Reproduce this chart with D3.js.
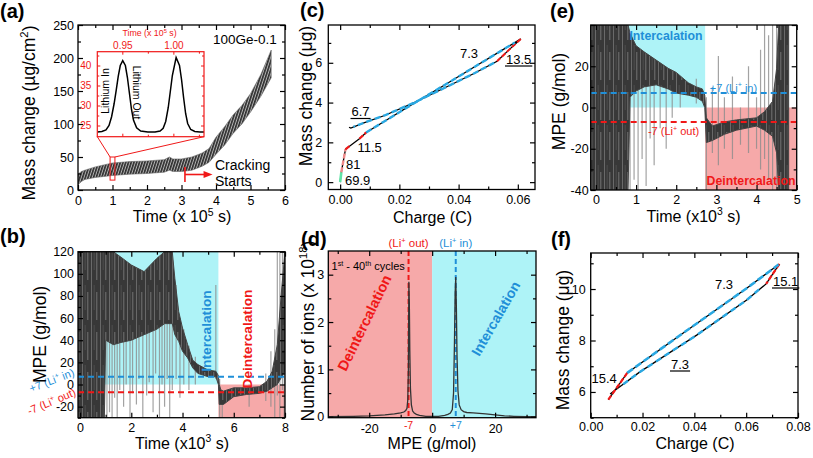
<!DOCTYPE html>
<html><head><meta charset="utf-8">
<script src="https://cdn.jsdelivr.net/npm/d3@7/dist/d3.min.js"></script>
<style>body{margin:0;background:#fff}svg{display:block}</style>
</head><body>
<script>
// ---------------- DATA ----------------
// (a) mass change band envelope (x 1e5 s, ug/cm2)
const aTime = [0, 0.1, 0.2, 0.5, 1, 1.5, 2, 2.5, 2.65, 2.75, 3, 3.3, 3.6, 3.8, 4, 4.25, 4.5, 4.75, 5, 5.3, 5.6];
const aLow  = [8, 13, 16, 19, 22, 24, 25, 27, 30, 28, 28, 30, 36, 42, 54, 68, 86, 100, 118, 142, 170];
const aHigh = [24, 28, 30, 35, 41, 43, 44, 46, 50, 47, 47, 50, 56, 63, 80, 96, 114, 128, 146, 175, 212];
const aXTicks = [0, 1, 2, 3, 4, 5, 6];
const aYTicks = [0, 50, 100, 150, 200, 250];
const crackStart = 3.1, crackArrowEnd = 3.9;
// inset
const inTime = [0.9255, 0.930, 0.934, 0.937, 0.9395, 0.942, 0.944, 0.946, 0.948, 0.9504, 0.953, 0.955, 0.957, 0.959, 0.961, 0.964, 0.968, 0.975, 0.982, 0.987, 0.990, 0.9925, 0.995, 0.997, 0.999, 1.0027, 1.006, 1.008, 1.010, 1.012, 1.014, 1.017, 1.021, 1.026, 1.030];
const inMass = [23.4, 23.5, 23.9, 25.0, 27.2, 30.5, 33.8, 37.3, 40.0, 41.2, 40.0, 37.0, 33.0, 29.0, 26.3, 24.4, 23.6, 23.4, 23.4, 23.6, 24.3, 26.0, 29.5, 33.5, 37.5, 42.0, 40.0, 36.5, 32.0, 28.0, 25.5, 24.0, 23.5, 23.4, 23.4];
const inXTicks = [0.95, 1.00];
const inYTicks = [25, 30, 35, 40];
const zoomBox = [0.93, 1.07, 15, 50];

// (b) MPE vs time, dense core band + spikes
const bTime = [-0.08, 0.95, 1.0, 1.3, 1.6, 2.0, 2.5, 3.0, 3.3, 3.6, 3.7, 3.85, 4.0, 4.2, 4.4, 4.6, 5.0, 5.3, 5.4, 5.43, 5.5, 5.6, 6.0, 6.5, 7.0, 7.3, 7.5, 7.7, 7.85, 8.0];
const bLow  = [-30, -30, 40, 36, 38, 40, 45, 50, 55, 55, 45, 39, 30, 24, 15, 10, 7, 7, 0, -18, -18, -18, -11, -9, -8, -6, -3, 0, 6, 12];
const bHigh = [120, 120, 120, 120, 115, 108, 102, 114, 120, 120, 96, 66, 51, 36, 22, 18, 13, 12, 8, 0, -5, -6, -3, -3, -2, 3, 12, 36, 81, 120];
const bSpikeT  = [1.05, 1.15, 1.25, 1.35, 1.45, 1.55, 1.7, 1.8, 1.95, 2.05, 2.2, 2.3, 2.45, 2.6, 2.7, 2.85, 2.95, 3.1, 3.2, 3.3, 3.4, 3.5, 3.6, 3.75, 3.9, 4.05, 4.25, 4.5, 5.3, 5.45, 5.55, 6.6, 7.25, 7.45, 7.6, 7.7, 7.8, 7.9, 7.97];
const bSpikeLo = [-30, -25, -30, -12, -30, -5, -20, 0, -30, -8, -18, 5, -30, -10, 2, -25, 10, -30, 0, -20, 5, -30, -5, 5, -12, 0, -5, 0, 5, -30, -30, -20, -15, -20, -30, -10, -30, -5, -30];
const bSpikeHi = [60, 70, 55, 60, 70, 50, 55, 60, 45, 55, 60, 50, 60, 50, 55, 60, 60, 70, 65, 70, 75, 80, 85, 90, 60, 50, 35, 25, 90, 5, -5, 0, 10, 30, 50, 120, 120, 120, 120];
const bXTicks = [0, 2, 4, 6, 8];
const bYTicks = [-20, 0, 20, 40, 60, 80, 100, 120];
const bSplit = 5.4;

// (c) mass vs charge, first cycle
const cCharge = [0, 0.0004, 0.0018, 0.0036, 0.0065, 0.0088, 0.015, 0.025, 0.035, 0.045, 0.055, 0.061, 0.057, 0.053, 0.045, 0.035, 0.025, 0.015, 0.008, 0.0036, 0.0030];
const cMass   = [0, 0.5, 1.65, 1.86, 2.18, 2.5, 3.06, 3.97, 4.86, 5.76, 6.66, 7.2, 6.65, 6.08, 5.45, 4.72, 4.0, 3.35, 2.98, 2.72, 2.76];
const cGreenQ = [0, 0.0004], cGreenM = [0, 0.5];
const cPinkQ = [0.0004, 0.0018], cPinkM = [0.5, 1.65];
const cRedQ1 = [0.0018, 0.0036], cRedM1 = [1.65, 1.86];
const cRedQ2 = [0.0065, 0.0088], cRedM2 = [2.18, 2.5];
const cRedQ3 = [0.061, 0.057, 0.053], cRedM3 = [7.2, 6.65, 6.08];
const cCyanUpQ = [0.0088, 0.015, 0.025, 0.035, 0.045, 0.055, 0.059], cCyanUpM = [2.5, 3.06, 3.97, 4.86, 5.76, 6.66, 7.02];
const cCyanDnQ = [0.052, 0.045, 0.035, 0.025, 0.015, 0.008, 0.0045], cCyanDnM = [6.0, 5.45, 4.72, 4.0, 3.35, 2.98, 2.78];
const cXTicks = [0, 0.02, 0.04, 0.06];
const cYTicks = [0, 2, 4, 6];

// (d) histogram of MPE, cycles 1-40
const dMPE  = [-33, -25, -20, -15, -12, -10, -9, -8.4, -8.0, -7.75, -7.55, -7.4, -7.25, -7.1, -6.9, -6.6, -6.2, -5.7, -5, -4, -3, -2, -1, 0, 1, 2, 3, 4, 5, 5.8, 6.4, 6.8, 7.1, 7.3, 7.5, 7.7, 7.9, 8.2, 8.6, 9.2, 10, 11, 13, 15, 17, 20, 23, 26, 30, 33];
const dIons = [0, 0.01, 0.02, 0.04, 0.06, 0.08, 0.1, 0.13, 0.18, 0.35, 1.0, 2.85, 2.4, 1.4, 0.6, 0.25, 0.12, 0.08, 0.05, 0.03, 0.02, 0.01, 0.01, 0.01, 0.01, 0.01, 0.02, 0.03, 0.05, 0.08, 0.15, 0.5, 1.6, 2.6, 2.95, 2.3, 1.3, 0.55, 0.25, 0.15, 0.11, 0.09, 0.08, 0.07, 0.06, 0.04, 0.02, 0.01, 0, 0];
const dRefOut = -7.5, dRefIn = 7.5;
const dXTicks = [-20, 0, 20];
const dYTicks = [0, 1, 2, 3];

// (e) MPE vs time, 40th cycle
const eTime = [-0.13, 0.8, 0.85, 1.0, 1.2, 1.5, 1.8, 2.0, 2.3, 2.5, 2.65, 2.71, 2.75, 2.9, 3.2, 3.5, 4.0, 4.2, 4.4, 4.5, 4.55, 4.8];
const eLow  = [-40, -40, 5, 8, 10, 11, 9, 7, 6, 5, 3, 0, -17, -16, -13, -11, -9, -11, -14, -22, -40, -40];
const eHigh = [40, 40, 36, 30, 27, 23, 19, 17, 12, 10, 9, 6, -5, -9, -7, -6, -5, -2, 3, 19, 40, 40];
const eSpikeT  = [0.85, 0.95, 1.05, 1.15, 1.25, 1.35, 1.45, 1.6, 1.75, 1.9, 2.1, 2.5, 2.75, 2.9, 3.05, 3.2, 3.4, 3.6, 3.8, 4.0, 4.1, 4.2, 4.3, 4.4, 4.5];
const eSpikeLo = [-40, -35, -40, -25, -38, -15, -28, -10, -20, -5, 0, 2, -40, -22, -28, -20, -25, -18, -22, -20, -30, -25, -35, -40, -40];
const eSpikeHi = [20, 25, 15, 20, 22, 18, 20, 18, 16, 14, 14, 14, 5, 10, 25, 5, 15, 0, 20, 5, 28, 40, 35, 40, 40];
const eXTicks = [0, 1, 2, 3, 4, 5];
const eYTicks = [-40, -20, 0, 20, 40];
const eSplit = 2.72;

// (f) mass vs charge, 40th cycle
const fCharge = [0.0068, 0.0141, 0.0319, 0.0602, 0.0728, 0.0677, 0.0602, 0.0409, 0.019, 0.009, 0.0075];
const fMass   = [5.70, 6.74, 8.02, 10.03, 10.97, 10.20, 9.57, 8.21, 6.78, 6.04, 5.92];
const fRedQ1 = [0.0068, 0.0141], fRedM1 = [5.70, 6.74];
const fRedQ2 = [0.0728, 0.0677], fRedM2 = [10.97, 10.20];
const fCyanUpQ = [0.0141, 0.0319, 0.0602, 0.0725], fCyanUpM = [6.74, 8.02, 10.03, 10.95];
const fCyanDnQ = [0.065, 0.0602, 0.0409, 0.019, 0.012], fCyanDnM = [9.99, 9.57, 8.21, 6.78, 6.26];
const fXTicks = [0, 0.02, 0.04, 0.06, 0.08];
const fYTicks = [6, 8, 10];

// ---------------- DRAWING ----------------
const FONT = "'Liberation Sans', Arial, Helvetica, sans-serif";
const BLUE = "#1f8fd8", RED = "#f01818", CYANBG = "#aef3f7", PINKBG = "#f6a9a9", LINEBLUE = "#2aa8e2";
const W = 813, H = 458;
const svg = d3.select("body").append("svg").attr("width", W).attr("height", H)
  .attr("font-family", FONT);
svg.append("rect").attr("width", W).attr("height", H).attr("fill", "#fff");
const defs = svg.append("defs");

// hatch for the oscillating mass trace in (a)
const hatch = defs.append("pattern").attr("id", "hatch").attr("patternUnits", "userSpaceOnUse")
  .attr("width", 2.6).attr("height", 10).attr("patternTransform", "rotate(18)");
hatch.append("rect").attr("width", 2.6).attr("height", 10).attr("fill", "#b4b4b4");
hatch.append("line").attr("x1", 0.8).attr("x2", 0.8).attr("y1", 0).attr("y2", 10)
  .attr("stroke", "#2e2e2e").attr("stroke-width", 1.6);
// streak texture for noisy MPE traces
const streak = defs.append("pattern").attr("id", "streak").attr("patternUnits", "userSpaceOnUse")
  .attr("width", 9, ).attr("height", 40);
streak.append("rect").attr("width", 9).attr("height", 40).attr("fill", "#383838");
[[1.5, "#6e6e6e", 0.9, 0, 40], [4.2, "#555", 0.7, 5, 30], [6.8, "#8a8a8a", 0.7, 12, 40]].forEach(([x, c, w, y1, y2]) =>
  streak.append("line").attr("x1", x).attr("x2", x).attr("y1", y1).attr("y2", y2).attr("stroke", c).attr("stroke-width", w));

function rich(sel, parts, fs) {
  const sh = fs * 0.38;
  let prev = false;
  parts.forEach(([t, s]) => {
    const ts = sel.append("tspan").text(t);
    if (s) { ts.attr("font-size", fs * 0.65).attr("dy", -sh); }
    else if (prev) { ts.attr("dy", sh); }
    prev = s;
  });
  return sel;
}
function text(x, y, parts, o = {}) {
  const fs = o.fs || 13;
  const t = svg.append("text").attr("x", x).attr("y", y).attr("font-size", fs)
    .attr("fill", o.fill || "#000").attr("text-anchor", o.anchor || "start")
    .attr("font-weight", o.bold ? "bold" : "normal");
  if (o.rot !== undefined) t.attr("transform", `rotate(${o.rot},${x},${y})`);
  if (typeof parts === "string") t.text(parts); else rich(t, parts, fs);
  return t;
}

function panel(p) {
  const x = d3.scaleLinear().domain(p.xd).range([p.l, p.r]);
  const y = d3.scaleLinear().domain(p.yd).range([p.b, p.t]);
  const id = "clip_" + p.name;
  defs.append("clipPath").attr("id", id).append("rect")
    .attr("x", p.l).attr("y", p.t).attr("width", p.r - p.l).attr("height", p.b - p.t);
  const g = svg.append("g").attr("clip-path", `url(#${id})`);
  return { x, y, g, p };
}
const fmtPlain = d => String(d);
function axes(P, o) {
  const { x, y, p } = P;
  const col = o.color || "#000";
  const fs = o.fs || 12.5;
  const tl = o.tl || 5, tm = o.tm || 3;
  const style = (g, lab) => {
    g.attr("font-family", FONT).attr("font-size", fs).attr("color", col);
    g.select(".domain").remove();
    g.selectAll("line").attr("stroke-width", o.sw || 1.2);
    if (!lab) g.selectAll("text").remove();
  };
  const add = (axisFn, scale, vals, size, tr, lab, fmt, pad) => {
    const a = axisFn(scale).tickValues(vals).tickSize(-size).tickSizeOuter(0).tickPadding(pad)
      .tickFormat(lab ? fmt : () => "");
    svg.append("g").attr("transform", tr).call(a).call(g => style(g, lab));
  };
  const xf = o.xFmt || fmtPlain, yf = o.yFmt || fmtPlain;
  add(d3.axisBottom, x, o.xMaj, tl, `translate(0,${p.b})`, !o.xTop, xf, o.xPad ?? 5);
  add(d3.axisTop, x, o.xMaj, tl, `translate(0,${p.t})`, !!o.xTop, xf, o.xPad ?? 5);
  add(d3.axisLeft, y, o.yMajLab || o.yMaj, tl, `translate(${p.l},0)`, true, yf, o.yPad ?? 4);
  if (o.yMajLab) add(d3.axisLeft, y, o.yMaj.filter(v => !o.yMajLab.includes(v)), tl, `translate(${p.l},0)`, false, yf, 4);
  add(d3.axisRight, y, o.yMaj, tl, `translate(${p.r},0)`, false, yf, 4);
  if (o.xMin) {
    add(d3.axisBottom, x, o.xMin, tm, `translate(0,${p.b})`, false, xf, 4);
    add(d3.axisTop, x, o.xMin, tm, `translate(0,${p.t})`, false, xf, 4);
  }
  if (o.yMin) {
    add(d3.axisLeft, y, o.yMin, tm, `translate(${p.l},0)`, false, yf, 4);
    add(d3.axisRight, y, o.yMin, tm, `translate(${p.r},0)`, false, yf, 4);
  }
  svg.append("rect").attr("x", p.l).attr("y", p.t).attr("width", p.r - p.l).attr("height", p.b - p.t)
    .attr("fill", "none").attr("stroke", col).attr("stroke-width", o.fw || 1.3);
}
const lineOf = (P, xs, ys) => d3.line().x((d, i) => P.x(xs[i])).y((d, i) => P.y(ys[i]))(xs);
const areaOf = (P, xs, lo, hi) => d3.area().x((d, i) => P.x(xs[i])).y0((d, i) => P.y(lo[i])).y1((d, i) => P.y(hi[i]))(xs);
const seq = (a, b, s) => d3.range(a, b + s / 2, s);
function noisy(P, T, lo, hi, sT, sLo, sHi) {
  P.g.selectAll("line.sp").data(sT).join("line").attr("class", "sp")
    .attr("x1", d => P.x(d)).attr("x2", d => P.x(d))
    .attr("y1", (d, i) => P.y(sLo[i])).attr("y2", (d, i) => P.y(sHi[i]))
    .attr("stroke", "#8c8c8c").attr("stroke-opacity", 0.8).attr("stroke-width", 1.2);
  P.g.append("path").attr("d", areaOf(P, T, lo, hi)).attr("fill", "url(#streak)")
    .attr("stroke", "#444").attr("stroke-width", 1);
}

// ===== (a) =====
{
  const P = panel({ name: "a", l: 78, r: 285, t: 25, b: 190, xd: [0, 6], yd: [0, 250] });
  P.g.append("path").attr("d", areaOf(P, aTime, aLow, aHigh)).attr("fill", "url(#hatch)")
    .attr("stroke", "#666").attr("stroke-width", 0.6);
  const I = { l: 97.3, r: 204, t: 51.7, b: 136.7 };
  P.g.append("rect").attr("x", P.x(zoomBox[0])).attr("y", P.y(zoomBox[3]))
    .attr("width", P.x(zoomBox[1]) - P.x(zoomBox[0])).attr("height", P.y(zoomBox[2]) - P.y(zoomBox[3]))
    .attr("fill", "none").attr("stroke", RED).attr("stroke-width", 1);
  P.g.append("line").attr("x1", I.l).attr("y1", I.b).attr("x2", P.x(zoomBox[0])).attr("y2", P.y(zoomBox[3]))
    .attr("stroke", RED).attr("stroke-width", 1);
  P.g.append("line").attr("x1", I.r).attr("y1", I.b).attr("x2", P.x(zoomBox[1])).attr("y2", P.y(zoomBox[3]))
    .attr("stroke", RED).attr("stroke-width", 1);
  const yc = 174.5;
  svg.append("line").attr("x1", P.x(crackStart)).attr("x2", P.x(crackStart)).attr("y1", 167).attr("y2", 182)
    .attr("stroke", RED).attr("stroke-width", 1.6);
  svg.append("line").attr("x1", P.x(crackStart)).attr("x2", P.x(crackArrowEnd) - 6).attr("y1", yc).attr("y2", yc)
    .attr("stroke", RED).attr("stroke-width", 1.6);
  const ax = P.x(crackArrowEnd);
  svg.append("path").attr("d", `M${ax},${yc} L${ax - 9},${yc - 3.5} L${ax - 9},${yc + 3.5} Z`).attr("fill", RED);
  text(215, 170, "Cracking", { fs: 14 });
  text(215, 186, "Starts", { fs: 14 });
  text(213, 44, "100Ge-0.1", { fs: 13.5 });
  axes(P, { xMaj: aXTicks, xMin: seq(0.5, 5.5, 1), yMaj: aYTicks, yMin: seq(25, 225, 50), xPad: 6 });
  // inset
  svg.append("rect").attr("x", I.l).attr("y", I.t).attr("width", I.r - I.l).attr("height", I.b - I.t).attr("fill", "#fff");
  const Q = panel({ name: "inset", l: I.l, r: I.r, t: I.t, b: I.b, xd: [0.9255, 1.030], yd: [22.2, 43.45] });
  Q.g.append("path").attr("d", lineOf(Q, inTime, inMass)).attr("fill", "none").attr("stroke", "#000").attr("stroke-width", 1.5);
  axes(Q, { color: RED, fs: 10, tl: 3, tm: 2, sw: 1, fw: 1.2, xTop: true, xMaj: inXTicks, xMin: [0.975, 1.025], yMaj: inYTicks, yMin: [27.5, 32.5, 37.5, 42.5], xFmt: d3.format(".2f"), xPad: 3, yPad: 6 });
  text(149.5, 36, [["Time (x 10", false], ["5", true], [" s)", false]], { fs: 8.8, fill: RED, anchor: "middle" });
  text(108.5, 91, "Lithium In", { fs: 10.5, anchor: "middle", rot: -90 });
  text(132.5, 92.5, "Lithium Out", { fs: 10.5, anchor: "middle", rot: 90 });
  text(182, 222, [["Time (x 10", false], ["5", true], [" s)", false]], { fs: 16, anchor: "middle" });
  text(34.5, 113, [["Mass change (\u00b5g/cm", false], ["2", true], [")", false]], { fs: 17.5, anchor: "middle", rot: -90 });
  text(0, 18, "(a)", { fs: 20, bold: true });
}

// ===== (b) =====
{
  const P = panel({ name: "b", l: 78, r: 285, t: 251.7, b: 417.7, xd: [-0.08, 8], yd: [-30, 120] });
  P.g.append("rect").attr("x", P.p.l).attr("y", P.p.t).attr("width", P.x(bSplit) - P.p.l).attr("height", P.y(0) - P.p.t).attr("fill", CYANBG);
  P.g.append("rect").attr("x", P.x(bSplit)).attr("y", P.y(0)).attr("width", P.p.r - P.x(bSplit)).attr("height", P.p.b - P.y(0)).attr("fill", PINKBG);
  noisy(P, bTime, bLow, bHigh, bSpikeT, bSpikeLo, bSpikeHi);
  P.g.append("line").attr("x1", P.p.l).attr("x2", P.p.r).attr("y1", P.y(7)).attr("y2", P.y(7))
    .attr("stroke", BLUE).attr("stroke-width", 2).attr("stroke-dasharray", "6,4");
  P.g.append("line").attr("x1", P.p.l).attr("x2", P.p.r).attr("y1", P.y(-7)).attr("y2", P.y(-7))
    .attr("stroke", RED).attr("stroke-width", 2).attr("stroke-dasharray", "6,4");
  text(210.5, 331, "Intercalation", { fs: 13.7, bold: true, fill: BLUE, anchor: "middle", rot: -90 });
  text(251.5, 339, "Deintercalation", { fs: 13.7, bold: true, fill: RED, anchor: "middle", rot: -90 });
  axes(P, { xMaj: bXTicks, xMin: [1, 3, 5, 7], yMaj: bYTicks, yMin: seq(-30, 110, 20), xPad: 5 });
  text(53, 384, [["+7 (Li", false], ["+", true], [" in)", false]], { fs: 11, fill: BLUE, anchor: "middle", rot: -21 });
  text(53, 405, [["-7 (Li", false], ["+", true], [" out)", false]], { fs: 11, fill: RED, anchor: "middle", rot: -23 });
  text(182, 448.5, [["Time (x10", false], ["3", true], [" s)", false]], { fs: 16, anchor: "middle" });
  text(46, 334.5, "MPE (g/mol)", { fs: 17.5, anchor: "middle", rot: -90 });
  text(0, 243, "(b)", { fs: 20, bold: true });
}

// ===== (c) =====
{
  const P = panel({ name: "c", l: 328.3, r: 535, t: 25, b: 189.5, xd: [-0.004, 0.0658], yd: [-0.37, 7.9] });
  P.g.append("path").attr("d", lineOf(P, cCharge, cMass)).attr("fill", "none").attr("stroke", "#000").attr("stroke-width", 1.3);
  const seg = (q, m, col, w, dash) => P.g.append("path").attr("d", lineOf(P, q, m)).attr("fill", "none")
    .attr("stroke", col).attr("stroke-width", w).attr("stroke-dasharray", dash);
  seg(cGreenQ, cGreenM, "#62e3a6", 2.6, null);
  seg(cPinkQ, cPinkM, "#f08a8a", 2.4, "5,2");
  seg(cRedQ1, cRedM1, RED, 2.2, "5,2");
  seg(cRedQ2, cRedM2, RED, 2.2, "5,2");
  seg(cRedQ3, cRedM3, RED, 2.0, "5,2");
  seg(cCyanUpQ, cCyanUpM, LINEBLUE, 2.4, "6,3");
  seg(cCyanDnQ, cCyanDnM, LINEBLUE, 2.4, "6,3");
  const lab = (x, y, t, u) => {
    const tt = text(x, y, t, { fs: 13 });
    if (u) { const w = tt.node().getComputedTextLength(); svg.append("line").attr("x1", x - 1).attr("x2", x + w + 1).attr("y1", y + 2.5).attr("y2", y + 2.5).attr("stroke", "#000").attr("stroke-width", 1.2); }
  };
  lab(460, 58, "7.3"); lab(506, 63.5, "13.5", true); lab(351.5, 116, "6.7", true);
  lab(357.5, 151.5, "11.5"); lab(346, 168.5, "81"); lab(345, 185, "69.9");
  axes(P, { xMaj: cXTicks, xMin: [0.01, 0.03, 0.05], yMaj: cYTicks, yMin: [1, 3, 5, 7], xFmt: d3.format(".2f"), xPad: 6, yPad: 6 });
  text(432.5, 223, "Charge (C)", { fs: 16, anchor: "middle" });
  text(312, 96, "Mass change (\u03bcg)", { fs: 17.5, anchor: "middle", rot: -90 });
  text(300, 17, "(c)", { fs: 20, bold: true });
}

// ===== (d) =====
{
  const P = panel({ name: "d", l: 328.3, r: 536, t: 251, b: 417.7, xd: [-33, 33], yd: [-0.02, 3.5] });
  P.g.append("rect").attr("x", P.p.l).attr("y", P.p.t).attr("width", P.x(0) - P.p.l).attr("height", P.p.b - P.p.t).attr("fill", PINKBG);
  P.g.append("rect").attr("x", P.x(0)).attr("y", P.p.t).attr("width", P.p.r - P.x(0)).attr("height", P.p.b - P.p.t).attr("fill", CYANBG);
  P.g.append("line").attr("x1", P.x(dRefOut)).attr("x2", P.x(dRefOut)).attr("y1", P.p.t).attr("y2", P.p.b)
    .attr("stroke", RED).attr("stroke-width", 2).attr("stroke-dasharray", "5,3");
  P.g.append("line").attr("x1", P.x(dRefIn)).attr("x2", P.x(dRefIn)).attr("y1", P.p.t).attr("y2", P.p.b)
    .attr("stroke", BLUE).attr("stroke-width", 2).attr("stroke-dasharray", "5,3");
  P.g.append("path").attr("d", lineOf(P, dMPE, dIons)).attr("fill", "none").attr("stroke", "#333").attr("stroke-width", 1.3);
  text(369, 325, "Deintercalation", { fs: 14.5, bold: true, fill: RED, anchor: "middle", rot: -64 });
  text(500, 321, "Intercalation", { fs: 14, bold: true, fill: BLUE, anchor: "middle", rot: -60 });
  text(331.5, 270, [["1", false], ["st", true], [" - 40", false], ["th", true], [" cycles", false]], { fs: 11 });
  axes(P, { xMaj: dXTicks, xMin: [-30, -10, 10, 30], yMaj: dYTicks, yMin: [0.5, 1.5, 2.5], xPad: 6 });
  text(P.x(dRefOut), 247, [["(Li", false], ["+", true], [" out)", false]], { fs: 11.5, fill: RED, anchor: "middle" });
  text(P.x(dRefIn), 247, [["(Li", false], ["+", true], [" in)", false]], { fs: 11.5, fill: BLUE, anchor: "middle" });
  text(P.x(dRefOut), 429, "-7", { fs: 10.5, fill: RED, anchor: "middle" });
  text(P.x(dRefIn), 429, "+7", { fs: 10.5, fill: BLUE, anchor: "middle" });
  text(432, 449, "MPE (g/mol)", { fs: 16, anchor: "middle" });
  text(314, 331, [["Number of ions (x 10", false], ["18", true], [")", false]], { fs: 17.5, anchor: "middle", rot: -90 });
  text(301, 246, "(d)", { fs: 20, bold: true });
}

// ===== (e) =====
{
  const P = panel({ name: "e", l: 590.7, r: 796.7, t: 25, b: 190, xd: [-0.13, 5], yd: [-40, 40] });
  P.g.append("rect").attr("x", P.p.l).attr("y", P.p.t).attr("width", P.x(eSplit) - P.p.l).attr("height", P.y(0) - P.p.t).attr("fill", CYANBG);
  P.g.append("rect").attr("x", P.x(eSplit)).attr("y", P.y(0)).attr("width", P.p.r - P.x(eSplit)).attr("height", P.p.b - P.y(0)).attr("fill", PINKBG);
  noisy(P, eTime, eLow, eHigh, eSpikeT, eSpikeLo, eSpikeHi);
  P.g.append("line").attr("x1", P.p.l).attr("x2", P.p.r).attr("y1", P.y(7)).attr("y2", P.y(7))
    .attr("stroke", BLUE).attr("stroke-width", 2).attr("stroke-dasharray", "6,4");
  P.g.append("line").attr("x1", P.p.l).attr("x2", P.p.r).attr("y1", P.y(-7)).attr("y2", P.y(-7))
    .attr("stroke", RED).attr("stroke-width", 2).attr("stroke-dasharray", "6,4");
  text(666, 40, "Intercalation", { fs: 12.3, bold: true, fill: BLUE, anchor: "middle" });
  text(751, 185, "Deintercalation", { fs: 12.3, bold: true, fill: RED, anchor: "middle" });
  text(733.5, 91.5, [["+7 (Li", false], ["+", true], [" in)", false]], { fs: 11, fill: BLUE, anchor: "middle" });
  text(673.5, 135, [["-7 (Li", false], ["+", true], [" out)", false]], { fs: 11, fill: RED, anchor: "middle" });
  axes(P, { xMaj: eXTicks, xMin: seq(0.5, 4.5, 1), yMaj: eYTicks, yMajLab: [-40, -20, 0, 20], yMin: [-30, -10, 10, 30], xPad: 5, yPad: 2 });
  text(693.5, 221.5, [["Time (x10", false], ["3", true], [" s)", false]], { fs: 16, anchor: "middle" });
  text(565, 101.5, "MPE (g/mol)", { fs: 17.5, anchor: "middle", rot: -90 });
  text(550, 18, "(e)", { fs: 20, bold: true });
}

// ===== (f) =====
{
  const P = panel({ name: "f", l: 590.7, r: 798, t: 253, b: 417.7, xd: [0, 0.08], yd: [5, 11.4] });
  P.g.append("path").attr("d", lineOf(P, fCharge, fMass)).attr("fill", "none").attr("stroke", "#000").attr("stroke-width", 1.3);
  const seg = (q, m, col, w, dash) => P.g.append("path").attr("d", lineOf(P, q, m)).attr("fill", "none")
    .attr("stroke", col).attr("stroke-width", w).attr("stroke-dasharray", dash);
  seg(fRedQ1, fRedM1, RED, 2.2, "5,2");
  seg(fRedQ2, fRedM2, RED, 2.2, "5,2");
  seg(fCyanUpQ, fCyanUpM, LINEBLUE, 2.6, "7,3");
  seg(fCyanDnQ, fCyanDnM, LINEBLUE, 2.4, "6,4");
  const lab = (x, y, t, u) => {
    const tt = text(x, y, t, { fs: 13 });
    if (u) { const w = tt.node().getComputedTextLength(); svg.append("line").attr("x1", x - 1).attr("x2", x + w + 1).attr("y1", y + 2.5).attr("y2", y + 2.5).attr("stroke", "#000").attr("stroke-width", 1.2); }
  };
  lab(715, 289, "7.3"); lab(773, 285.5, "15.1", true); lab(671, 368.5, "7.3", true); lab(591.5, 383, "15.4");
  axes(P, { xMaj: fXTicks, xMin: seq(0.01, 0.07, 0.02), yMaj: fYTicks, yMin: [5, 7, 9, 11], xFmt: d3.format(".2f"), xPad: 4, yPad: 5 });
  text(695, 449, "Charge (C)", { fs: 16, anchor: "middle" });
  text(569, 340, "Mass change (\u03bcg)", { fs: 17.5, anchor: "middle", rot: -90 });
  text(551, 246, "(f)", { fs: 20, bold: true });
}
</script>
</body></html>
